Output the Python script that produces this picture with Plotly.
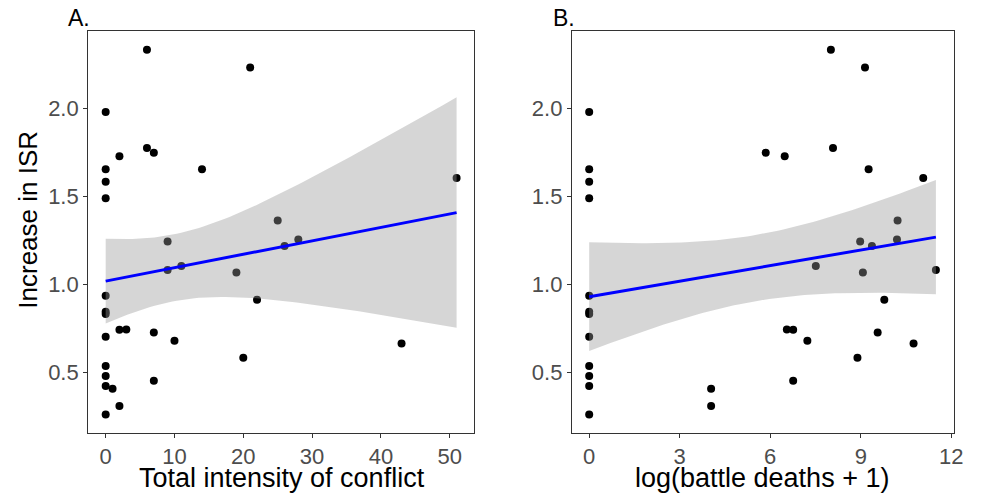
import numpy as np
import plotly.graph_objects as go

# Data
isr = [2.334, 2.233, 1.98, 1.776, 1.748, 1.729, 1.654, 1.654, 1.584, 1.49,
       1.605, 1.363, 1.244, 1.255, 1.218, 1.082, 1.105, 1.068, 0.913, 0.936,
       0.845, 0.832, 0.703, 0.742, 0.744, 0.727, 0.68, 0.665, 0.583, 0.536,
       0.48, 0.423, 0.408, 0.453, 0.31, 0.261]
intensity = [6, 21, 0, 6, 7, 2, 0, 14, 0, 0,
             51, 25, 9, 28, 26, 9, 11, 19, 22, 0,
             0, 0, 0, 2, 3, 7, 10, 43, 20, 0,
             0, 0, 1, 7, 2, 0]
log_deaths = [8.01, 9.14, 0, 8.08, 5.85, 6.48, 0, 9.26, 0, 0,
              11.07, 10.22, 8.98, 10.2, 9.37, 11.49, 7.51, 9.07, 9.78, 0,
              0, 0, 0, 6.76, 6.55, 9.56, 7.23, 10.75, 8.89, 0,
              0, 0, 4.04, 6.76, 4.04, 0]

x_ticks_a = [0, 10, 20, 30, 40, 50]
x_ticks_b = [0, 3, 6, 9, 12]
y_ticks = [0.5, 1.0, 1.5, 2.0]
T975 = 2.032  # t quantile, df = 34


def fit_band(x, y, n=80):
    x = np.asarray(x, float)
    y = np.asarray(y, float)
    b1, b0 = np.polyfit(x, y, 1)
    resid = y - (b0 + b1 * x)
    s = np.sqrt(np.sum(resid ** 2) / (len(x) - 2))
    xs = np.linspace(x.min(), x.max(), n)
    sxx = np.sum((x - x.mean()) ** 2)
    se = s * np.sqrt(1 / len(x) + (xs - x.mean()) ** 2 / sxx)
    yh = b0 + b1 * xs
    return xs, yh, yh - T975 * se, yh + T975 * se


fig = go.Figure()
for xdat, xa, ya in [(intensity, "x", "y"), (log_deaths, "x2", "y2")]:
    fig.add_trace(go.Scatter(x=xdat, y=isr, mode="markers", xaxis=xa, yaxis=ya,
                             marker=dict(color="black", size=8), showlegend=False,
                             hoverinfo="skip"))
    xs, yh, lo, hi = fit_band(xdat, isr)
    fig.add_trace(go.Scatter(x=np.concatenate([xs, xs[::-1]]),
                             y=np.concatenate([hi, lo[::-1]]),
                             fill="toself", fillcolor="rgba(153,153,153,0.4)",
                             line=dict(width=0), mode="lines", xaxis=xa, yaxis=ya,
                             showlegend=False, hoverinfo="skip"))
    fig.add_trace(go.Scatter(x=xs, y=yh, mode="lines", xaxis=xa, yaxis=ya,
                             line=dict(color="#0000ff", width=3), showlegend=False))

FONT = "Liberation Sans"
ax_common = dict(showgrid=False, zeroline=False, showline=True, mirror=True,
                 linecolor="#333333", linewidth=1, ticks="outside", ticklen=4,
                 tickcolor="#333333", tickfont=dict(size=22, color="#4d4d4d", family=FONT))
ylo, yhi = 0.156, 2.44
fig.update_layout(
    width=987, height=494, margin=dict(l=0, r=0, t=0, b=0),
    paper_bgcolor="white", plot_bgcolor="white",
    xaxis=dict(domain=[0.0902, 0.4853], range=[-2.55, 53.55], tickvals=x_ticks_a, **ax_common),
    yaxis=dict(domain=[0.1235, 0.9372], range=[ylo, yhi], tickvals=y_ticks,
               tickformat=".1f", **ax_common),
    xaxis2=dict(domain=[0.5853, 0.976], range=[-0.575, 12.075], tickvals=x_ticks_b,
                anchor="y2", **ax_common),
    yaxis2=dict(domain=[0.1235, 0.9372], range=[ylo, yhi], tickvals=y_ticks,
                tickformat=".1f", anchor="x2", **ax_common),
    annotations=[
        dict(text="A.", x=67 / 987, y=1 - 18 / 494, xref="paper", yref="paper",
             xanchor="left", yanchor="middle", showarrow=False,
             font=dict(size=23, color="black", family=FONT)),
        dict(text="B.", x=557 / 987, y=1 - 18 / 494, xref="paper", yref="paper",
             xanchor="left", yanchor="middle", showarrow=False,
             font=dict(size=23, color="black", family=FONT)),
        dict(text="Total intensity of conflict", x=285 / 987, y=1 - 478 / 494,
             xref="paper", yref="paper", xanchor="center", yanchor="middle",
             showarrow=False, font=dict(size=27, color="black", family=FONT)),
        dict(text="log(battle deaths + 1)", x=770 / 987, y=1 - 478 / 494,
             xref="paper", yref="paper", xanchor="center", yanchor="middle",
             showarrow=False, font=dict(size=27, color="black", family=FONT)),
        dict(text="Increase in ISR", x=28 / 987, y=1 - 220 / 494, xref="paper",
             yref="paper", xanchor="center", yanchor="middle", textangle=-90,
             showarrow=False, font=dict(size=26, color="black", family=FONT)),
    ],
)
fig.write_html("out.html")
